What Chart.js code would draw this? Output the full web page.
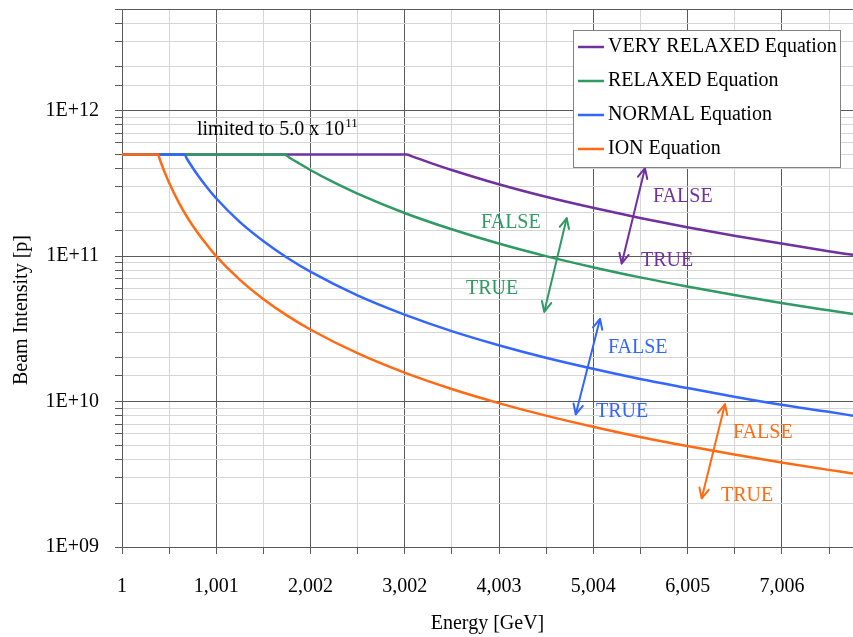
<!DOCTYPE html>
<html>
<head>
<meta charset="utf-8">
<script src="https://cdn.jsdelivr.net/npm/chart.js@4.4.0/dist/chart.umd.min.js"></script>
<style>
html, body { margin: 0; padding: 0; background: #fff; }
#wrap { width: 853px; height: 637px; }
</style>
</head>
<body>
<div id="wrap"><canvas id="beamChart"></canvas></div>
<script>
'use strict'
var FONT = '"Liberation Serif", "Times New Roman", serif';

// x axis tick labels (Energy [GeV])
var xTickLabels = [1, 1001, 2002, 3002, 4003, 5004, 6005, 7006];
var xMax = 7760;

// VERY RELAXED
var veryRelaxedEnergy = [1, 3022, 3080, 3250, 3500, 4000, 4500, 5000, 5500, 6000, 6500, 7000, 7500, 7760];
var veryRelaxedIntensity = [5e11, 5e11, 4.85e11, 4.43e11, 3.91e11, 3.12e11, 2.56e11, 2.15e11, 1.83e11, 1.58e11, 1.38e11, 1.22e11, 1.08e11, 1.02e11];

// RELAXED
var relaxedEnergy = [1, 1727, 1780, 1850, 2000, 2250, 2500, 3000, 3500, 4000, 4500, 5000, 5500, 6000, 6500, 7000, 7500, 7760];
var relaxedIntensity = [5e11, 5e11, 4.75e11, 4.46e11, 3.91e11, 3.21e11, 2.69e11, 1.98e11, 1.53e11, 1.22e11, 1.0e11, 8.39e10, 7.14e10, 6.18e10, 5.4e10, 4.76e10, 4.24e10, 4.0e10];

// NORMAL
var normalEnergy = [1, 663, 690, 720, 800, 900, 1000, 1250, 1500, 1750, 2000, 2500, 3000, 3500, 4000, 4500, 5000, 5500, 6000, 6500, 7000, 7500, 7760];
var normalIntensity = [5e11, 5e11, 4.67e11, 4.35e11, 3.64e11, 2.99e11, 2.50e11, 1.72e11, 1.27e11, 9.78e10, 7.82e10, 5.37e10, 3.96e10, 3.05e10, 2.44e10, 2.0e10, 1.68e10, 1.43e10, 1.24e10, 1.08e10, 9.5e9, 8.5e9, 8.0e9];

// ION
var ionEnergy = [1, 384, 400, 420, 460, 500, 600, 700, 800, 900, 1000, 1250, 1500, 1750, 2000, 2500, 3000, 3500, 4000, 4500, 5000, 5500, 6000, 6500, 7000, 7500, 7760];
var ionIntensity = [5e11, 5e11, 4.67e11, 4.30e11, 3.69e11, 3.21e11, 2.36e11, 1.82e11, 1.46e11, 1.20e11, 1.00e11, 6.89e10, 5.07e10, 3.91e10, 3.13e10, 2.15e10, 1.58e10, 1.22e10, 9.76e9, 8.0e9, 6.71e9, 5.71e9, 4.94e9, 4.32e9, 3.81e9, 3.39e9, 3.2e9];

var PURPLE = '#7030a0', GREEN = '#2f9a63', BLUE = '#3366ff', ORANGE = '#ff6a13';
var MAJOR_GRID = '#5a5a5a', MINOR_GRID = '#d6d6d6';

// TRUE/FALSE arrows, in data units [energy, intensity]
var arrows = [
    { color: PURPLE, from: [5305, 8.9e10], to: [5552, 4.02e11], falseAt: [5637, 2.55e11], trueAt: [5510, 9.25e10] },
    { color: GREEN, from: [4483, 4.15e10], to: [4721, 1.82e11], falseAt: [3812, 1.69e11], trueAt: [3652, 5.94e10] },
    { color: BLUE, from: [4817, 8.17e9], to: [5075, 3.7e10], falseAt: [5159, 2.34e10], trueAt: [5032, 8.47e9] },
    { color: ORANGE, from: [6154, 2.16e9], to: [6401, 9.57e9], falseAt: [6486, 6.08e9], trueAt: [6359, 2.24e9] }
];
var limitNote = { at: [797, 7.36e11], text: 'limited to 5.0 x 10', sup: '11' };

function points(xs, ys) {
    return xs.map(function (x, i) { return { x: x, y: ys[i] }; });
}

function isDecade(v) {
    var l = Math.log10(v);
    return Math.abs(l - Math.round(l)) < 1e-9;
}

var annotationPlugin = {
    id: 'annotations',
    afterDatasetsDraw: function (chart) {
        var ctx = chart.ctx, xs = chart.scales.x, ys = chart.scales.y;
        function px(p) { return [xs.getPixelForValue(p[0]), ys.getPixelForValue(p[1])]; }
        function head(tip, base) {
            var ang = Math.atan2(tip[1] - base[1], tip[0] - base[0]);
            var len = 11, spread = 0.45;
            ctx.beginPath();
            ctx.moveTo(tip[0] - len * Math.cos(ang - spread), tip[1] - len * Math.sin(ang - spread));
            ctx.lineTo(tip[0], tip[1]);
            ctx.lineTo(tip[0] - len * Math.cos(ang + spread), tip[1] - len * Math.sin(ang + spread));
            ctx.stroke();
        }
        ctx.save();
        ctx.lineWidth = 2;
        ctx.lineCap = 'round';
        ctx.lineJoin = 'round';
        ctx.font = '20px ' + FONT;
        ctx.textAlign = 'left';
        ctx.textBaseline = 'middle';
        arrows.forEach(function (a) {
            var p1 = px(a.from), p2 = px(a.to);
            ctx.strokeStyle = a.color;
            ctx.beginPath();
            ctx.moveTo(p1[0], p1[1]);
            ctx.lineTo(p2[0], p2[1]);
            ctx.stroke();
            head(p1, p2);
            head(p2, p1);
            ctx.fillStyle = a.color;
            var f = px(a.falseAt), t = px(a.trueAt);
            ctx.fillText('FALSE', f[0], f[1]);
            ctx.fillText('TRUE', t[0], t[1]);
        });
        // limit note with superscript
        var n = px(limitNote.at);
        ctx.fillStyle = '#000';
        ctx.fillText(limitNote.text, n[0], n[1]);
        var w = ctx.measureText(limitNote.text).width;
        ctx.font = '13px ' + FONT;
        ctx.fillText(limitNote.sup, n[0] + w + 1, n[1] - 6);
        ctx.restore();
    }
};

var boxLegend = {
    id: 'boxLegend',
    afterDraw: function (chart) {
        var ctx = chart.ctx, area = chart.chartArea;
        var left = area.right - 280, top = area.top + 21, width = 267, height = 137;
        ctx.save();
        ctx.fillStyle = '#fff';
        ctx.fillRect(left, top, width, height);
        ctx.strokeStyle = '#808080';
        ctx.lineWidth = 1;
        ctx.strokeRect(left + 0.5, top + 0.5, width, height);
        ctx.font = '20px ' + FONT;
        ctx.textAlign = 'left';
        ctx.textBaseline = 'middle';
        chart.data.datasets.forEach(function (ds, i) {
            var y = top + 17 + i * 34;
            ctx.strokeStyle = ds.borderColor;
            ctx.lineWidth = 2.5;
            ctx.beginPath();
            ctx.moveTo(left + 5, y);
            ctx.lineTo(left + 31, y);
            ctx.stroke();
            ctx.fillStyle = '#000';
            ctx.fillText(ds.label, left + 35, y);
        });
        ctx.restore();
    }
};

var yTitlePlugin = {
    id: 'yTitle',
    afterDraw: function (chart) {
        var ctx = chart.ctx, area = chart.chartArea;
        ctx.save();
        ctx.translate(area.left - 100, (area.top + area.bottom) / 2 + 32);
        ctx.rotate(-Math.PI / 2);
        ctx.font = '20px ' + FONT;
        ctx.fillStyle = '#000';
        ctx.textAlign = 'center';
        ctx.textBaseline = 'middle';
        ctx.fillText('Beam Intensity [p]', 0, 0);
        ctx.restore();
    }
};

function line(label, xs, ys, color, order) {
    return {
        label: label,
        data: points(xs, ys),
        borderColor: color,
        backgroundColor: color,
        borderWidth: 2.5,
        pointRadius: 0,
        cubicInterpolationMode: 'monotone',
        order: order
    };
}

var beamChart = new Chart(document.getElementById('beamChart'), {
    type: 'line',
    data: {
        datasets: [
            line('VERY RELAXED Equation', veryRelaxedEnergy, veryRelaxedIntensity, PURPLE, 3),
            line('RELAXED Equation', relaxedEnergy, relaxedIntensity, GREEN, 2),
            line('NORMAL Equation', normalEnergy, normalIntensity, BLUE, 1),
            line('ION Equation', ionEnergy, ionIntensity, ORANGE, 0)
        ]
    },
    options: {
        responsive: true,
        maintainAspectRatio: false,
        animation: false,
        layout: { padding: { left: 0, top: 9, right: 0, bottom: 0 } },
        plugins: {
            legend: { display: false },
            tooltip: { enabled: false }
        },
        scales: {
            x: {
                type: 'linear',
                min: 1,
                max: xMax,
                afterBuildTicks: function (scale) {
                    var ticks = [];
                    xTickLabels.forEach(function (v, i) {
                        ticks.push({ value: v });
                        var next = xTickLabels[i + 1];
                        var mid = next !== undefined ? (v + next) / 2 : v + (v - xTickLabels[i - 1]) / 2;
                        if (mid <= scale.max) ticks.push({ value: mid });
                    });
                    scale.ticks = ticks;
                },
                afterFit: function (scale) {
                    scale.height = 90;
                    scale.paddingLeft = 0;
                    scale.paddingRight = 0;
                },
                grid: {
                    color: function (c) {
                        return c.tick && xTickLabels.indexOf(c.tick.value) >= 0 ? MAJOR_GRID : MINOR_GRID;
                    },
                    tickColor: MAJOR_GRID,
                    tickLength: 7,
                    lineWidth: 1
                },
                border: { color: MAJOR_GRID, width: 1 },
                ticks: {
                    autoSkip: false,
                    maxRotation: 0,
                    padding: 21,
                    color: '#000',
                    font: { family: FONT, size: 20 },
                    callback: function (value) {
                        return xTickLabels.indexOf(value) >= 0 ? value.toLocaleString('en-US') : '';
                    }
                },
                title: {
                    display: true,
                    text: 'Energy [GeV]',
                    color: '#000',
                    font: { family: FONT, size: 20 },
                    padding: { top: 0, bottom: 1 }
                }
            },
            y: {
                type: 'logarithmic',
                min: 1e9,
                max: 5e12,
                afterFit: function (scale) {
                    scale.width = 122;
                    scale.paddingTop = 0;
                    scale.paddingBottom = 0;
                },
                grid: {
                    color: function (c) {
                        if (!c.tick) return MINOR_GRID;
                        return isDecade(c.tick.value) || c.tick.value >= 5e12 ? MAJOR_GRID : MINOR_GRID;
                    },
                    tickColor: MAJOR_GRID,
                    tickLength: 7,
                    lineWidth: 1
                },
                border: { color: MAJOR_GRID, width: 1 },
                ticks: {
                    autoSkip: false,
                    padding: 16,
                    color: '#000',
                    font: { family: FONT, size: 20 },
                    callback: function (value) {
                        if (!isDecade(value)) return '';
                        var e = Math.round(Math.log10(value));
                        return '1E+' + (e < 10 ? '0' + e : e);
                    }
                }
            }
        }
    },
    plugins: [annotationPlugin, boxLegend, yTitlePlugin]
});
</script>
</body>
</html>
